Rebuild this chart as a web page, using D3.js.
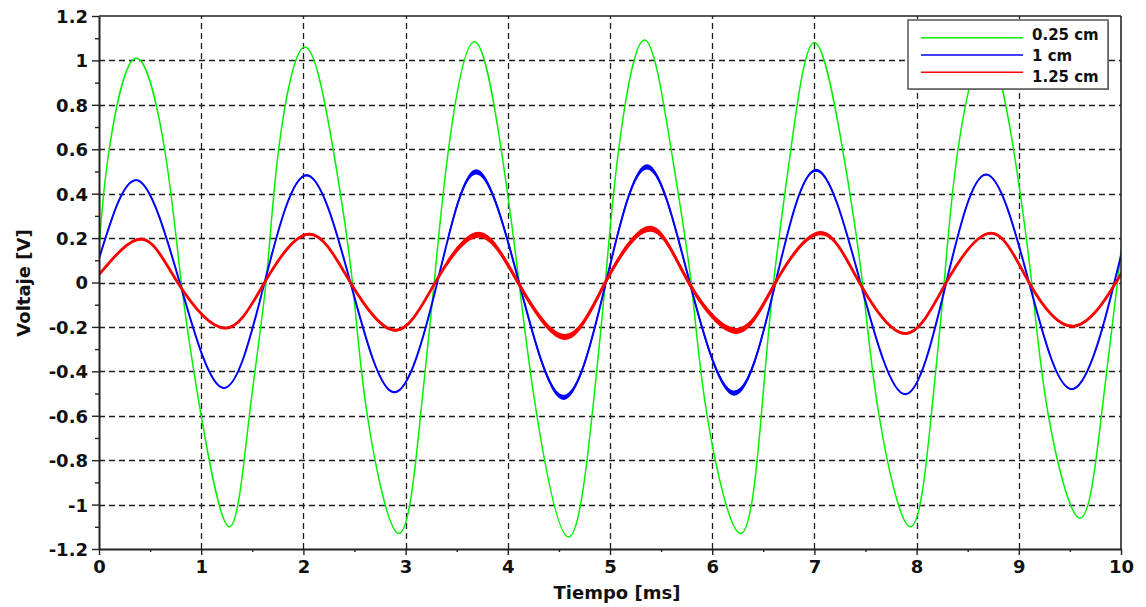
<!DOCTYPE html>
<html><head><meta charset="utf-8">
<script src="https://cdn.jsdelivr.net/npm/d3@7"></script>
<style>
body{margin:0;background:#fff}
svg{display:block}
text{font-family:"DejaVu Sans",Verdana,sans-serif;font-weight:bold;fill:#111}
</style>
</head><body>
<svg id="c" width="1146" height="607"></svg>
<script>
// ---------- data ----------
const xTicks = [0,1,2,3,4,5,6,7,8,9,10];
const xTickLabels = ["0","1","2","3","4","5","6","7","8","9","10"];
const xMinorTicks = [0.5,1.5,2.5,3.5,4.5,5.5,6.5,7.5,8.5,9.5];
const yTicks = [-1.2,-1,-0.8,-0.6,-0.4,-0.2,0,0.2,0.4,0.6,0.8,1,1.2];
const yTickLabels = ["-1.2","-1","-0.8","-0.6","-0.4","-0.2","0","0.2","0.4","0.6","0.8","1","1.2"];
const yMinorTicks = [-1.1,-0.9,-0.7,-0.5,-0.3,-0.1,0.1,0.3,0.5,0.7,0.9,1.1];
const xTitle = "Tiempo [ms]";
const yTitle = "Voltaje [V]";
const seriesNames = ["0.25 cm","1 cm","1.25 cm"];

// time [ms], voltage [V]
const serie025 = [
  [0,0.15],[0.10,0.60],[0.36,1.01],[0.642,0.60],[0.805,0],[1.0,-0.60],[1.276,-1.10],
  [1.471,-0.60],[1.634,0],[1.758,0.60],[2.015,1.06],[2.291,0.60],[2.48,0],[2.626,-0.60],
  [2.935,-1.13],[3.146,-0.60],[3.28,0],[3.42,0.60],[3.673,1.084],[3.935,0.60],[4.11,0],
  [4.285,-0.60],[4.595,-1.146],[4.824,-0.60],[4.954,0],[5.085,0.60],[5.337,1.092],
  [5.598,0.60],[5.794,0],[5.95,-0.60],[6.278,-1.13],[6.48,-0.60],[6.60,0],[6.77,0.60],
  [7.0,1.081],[7.276,0.60],[7.47,0],[7.633,-0.60],[7.94,-1.10],[8.143,-0.60],[8.27,0],
  [8.405,0.60],[8.68,1.05],[8.948,0.60],[9.126,0],[9.29,-0.60],[9.597,-1.061],
  [9.808,-0.60],[9.965,0],[10,0.15]
];
const serie1 = [
  [0,0.107],[0.376,0.46],[0.79,0],[1.22,-0.475],[1.62,0],[2.03,0.483],[2.46,0],
  [2.89,-0.494],[3.31,0],[3.69,0.498],[4.11,0],[4.546,-0.517],[4.96,0],[5.363,0.521],
  [5.78,0],[6.219,-0.498],[6.62,0],[7.016,0.506],[7.45,0],[7.89,-0.503],[8.29,0],
  [8.68,0.486],[9.10,0],[9.54,-0.478],[9.935,0],[10,0.12]
];
const serie125 = [
  [0,0.035],[0.42,0.195],[0.77,0],[1.23,-0.205],[1.62,0],[2.057,0.218],[2.46,0],
  [2.90,-0.215],[3.29,0],[3.71,0.215],[4.10,0],[4.556,-0.245],[4.954,0],[5.395,0.242],
  [5.77,0],[6.24,-0.218],[6.62,0],[7.06,0.222],[7.44,0],[7.89,-0.23],[8.29,0],
  [8.73,0.222],[9.10,0],[9.55,-0.196],[9.95,0],[10,0.038]
];

// ---------- layout / style ----------
const L = 99, R = 1121, T = 16, B = 549;
const colors = ["#00f000","#0000ff","#ff0000"];
// noise band styling: [from ms, to ms, half thickness px]
const noiseStyle = [
  [[0,10,0]],
  [[0,1.6,0.6],[1.6,3.4,1.1],[3.4,6.65,2.6],[6.65,7.45,1.5],[7.45,10,0.8]],
  [[0,3.4,1.3],[3.4,6.65,3.0],[6.65,7.45,2.1],[7.45,10,1.3]]
];
const strokeW = [1.5,2.0,2.8];

const svg = d3.select("#c");
const x = d3.scaleLinear().domain([0,10]).range([L,R]);
const y = d3.scaleLinear().domain([-1.2,1.2]).range([B,T]);
const defs = svg.append("defs");
defs.append("clipPath").attr("id","plot").append("rect")
  .attr("x",L).attr("y",T).attr("width",R-L).attr("height",B-T);

// grid
const grid = svg.append("g").attr("stroke","#1e1e1e").attr("stroke-width",1.3)
  .attr("stroke-dasharray","6,4").attr("fill","none");
xTicks.filter(t => t>0 && t<10).forEach(t => {
  const px = Math.round(x(t))+0.5;
  grid.append("line").attr("x1",px).attr("x2",px).attr("y1",B).attr("y2",T);
});
yTicks.filter(v => v>-1.19 && v<1.19).forEach(v => {
  const py = Math.round(y(v))+0.5;
  grid.append("line").attr("x1",L).attr("x2",R).attr("y1",py).attr("y2",py);
});

// series
const line = d3.line().x(d => x(d[0])).y(d => y(d[1])).curve(d3.curveNatural);
const plotG = svg.append("g").attr("clip-path","url(#plot)");
[serie025, serie1, serie125].forEach((data, si) => {
  noiseStyle[si].forEach((b, bi) => {
    const id = "clip" + si + "_" + bi;
    defs.append("clipPath").attr("id", id).append("rect")
      .attr("x", x(b[0])).attr("y", T).attr("width", x(b[1]) - x(b[0])).attr("height", B - T);
    const g = plotG.append("g").attr("clip-path", "url(#" + id + ")");
    if (b[2] > 0) {
      const area = d3.area().x(d => x(d[0]))
        .y0(d => y(d[1]) - b[2]).y1(d => y(d[1]) + b[2]).curve(d3.curveNatural);
      g.append("path").datum(data).attr("d", area).attr("fill", colors[si]);
    }
    g.append("path").datum(data).attr("d", line).attr("fill","none")
      .attr("stroke", colors[si]).attr("stroke-width", strokeW[si]).attr("stroke-linejoin","round");
  });
});

// axes
svg.append("g").attr("transform", `translate(0,${B})`)
  .call(d3.axisBottom(x).tickValues(xTicks).tickFormat((d,i) => xTickLabels[i])
    .tickSize(6).tickSizeOuter(0).tickPadding(5));
svg.append("g").attr("transform", `translate(0,${B})`)
  .call(d3.axisBottom(x).tickValues(xMinorTicks).tickFormat("").tickSize(3).tickSizeOuter(0))
  .select(".domain").remove();
const ay = svg.append("g").attr("transform", `translate(${L},0)`)
  .call(d3.axisLeft(y).tickValues(yTicks).tickFormat((d,i) => yTickLabels[i])
    .tickSize(7).tickSizeOuter(0).tickPadding(4));
svg.append("g").attr("transform", `translate(${L},0)`)
  .call(d3.axisLeft(y).tickValues(yMinorTicks).tickFormat("").tickSize(4).tickSizeOuter(0))
  .select(".domain").remove();
svg.selectAll(".tick line").attr("stroke","#222").attr("stroke-width",1.4);
svg.selectAll(".domain").attr("stroke","#222").attr("stroke-width",2);
svg.selectAll(".tick text").style("font-size","18px").style("font-family","DejaVu Sans")
  .style("font-weight","bold").attr("fill","#111");
ay.selectAll(".tick text").attr("dy","0.36em");

// frame top/right
svg.append("line").attr("x1",L).attr("x2",R).attr("y1",T).attr("y2",T).attr("stroke","#222").attr("stroke-width",1.6);
svg.append("line").attr("x1",R).attr("x2",R).attr("y1",T).attr("y2",B).attr("stroke","#222").attr("stroke-width",1.6);

// titles
svg.append("text").attr("x",617).attr("y",599).attr("text-anchor","middle")
  .style("font-size","18px").text(xTitle);
svg.append("text").attr("transform","translate(30,283) rotate(-90)").attr("text-anchor","middle")
  .style("font-size","18px").text(yTitle);

// legend
const lg = svg.append("g");
lg.append("rect").attr("x",909).attr("y",21).attr("width",200).attr("height",69).attr("fill","#999");
lg.append("rect").attr("x",908).attr("y",20).attr("width",200).attr("height",69)
  .attr("fill","#fff").attr("stroke","#555").attr("stroke-width",1.5);
const lineY = [37.7,55,72.3], textY = [39.5,60.8,82.3];
seriesNames.forEach((n,i) => {
  lg.append("line").attr("x1",921).attr("x2",1023).attr("y1",lineY[i]).attr("y2",lineY[i])
    .attr("stroke",colors[i]).attr("stroke-width",1.4);
  lg.append("text").attr("x",1032).attr("y",textY[i]).style("font-size","15px").text(n);
});
</script>
</body></html>
